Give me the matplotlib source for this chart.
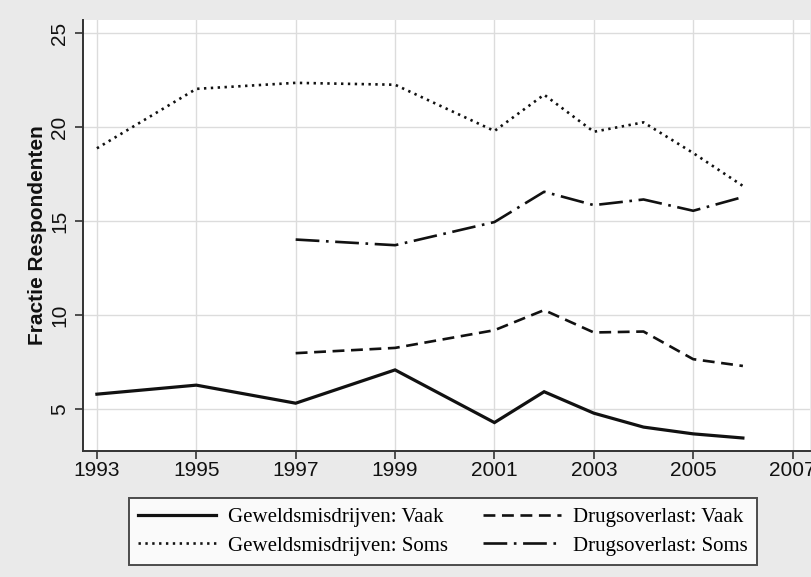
import matplotlib
matplotlib.use("Agg")
import matplotlib.pyplot as plt
import numpy as np

years = [1993, 1995, 1997, 1999, 2001, 2002, 2003, 2004, 2005, 2006]
years_drugs = [1997, 1999, 2001, 2002, 2003, 2004, 2005, 2006]

geweld_vaak = [5.80, 6.28, 5.32, 7.09, 4.29, 5.93, 4.79, 4.05, 3.69, 3.47]
geweld_soms = [18.87, 22.03, 22.35, 22.25, 19.79, 21.72, 19.75, 20.25, 18.62, 16.87]
drugs_vaak = [7.98, 8.26, 9.20, 10.27, 9.08, 9.13, 7.66, 7.30]
drugs_soms = [14.02, 13.72, 14.95, 16.56, 15.85, 16.15, 15.55, 16.28]

labels = ["Geweldsmisdrijven: Vaak", "Geweldsmisdrijven: Soms",
          "Drugsoverlast: Vaak", "Drugsoverlast: Soms"]
xticks = [1993, 1995, 1997, 1999, 2001, 2003, 2005, 2007]
yticks = [5, 10, 15, 20, 25]

bg = "#eaeaea"
ink = "#111111"

fig = plt.figure(figsize=(8.12, 5.77), dpi=100, facecolor=bg)
ax = fig.add_axes([0.1022, 0.2184, 0.8953, 0.7469])
ax.set_facecolor("white")

h1, = ax.plot(years, geweld_vaak, color=ink, lw=2.3, solid_joinstyle="miter")
h2, = ax.plot(years, geweld_soms, color=ink, lw=1.9, linestyle=(0, (0.9, 1.7)))
h3, = ax.plot(years_drugs, drugs_vaak, color=ink, lw=1.9, linestyle=(0, (4.5, 2.5)))
h4, = ax.plot(years_drugs, drugs_soms, color=ink, lw=1.9,
              linestyle=(0, (9, 2.5, 1, 2.5)))

ax.set_xlim(1992.72, 2007.35)
ax.set_ylim(2.78, 25.69)
ax.set_xticks(xticks)
ax.set_yticks(yticks)
ax.grid(True, color="#dcdcdc", lw=1.0)
ax.set_axisbelow(True)

for s in ["top", "right"]:
    ax.spines[s].set_visible(False)
for s in ["left", "bottom"]:
    ax.spines[s].set_color("#333333")
    ax.spines[s].set_linewidth(1.4)

ax.tick_params(axis="both", length=6, width=1.2, color="#333333",
               labelsize=15, labelcolor=ink)
ax.tick_params(axis="x", pad=1.5)
ax.tick_params(axis="y", pad=4)
for lab in ax.get_xticklabels():
    lab.set_family("Liberation Sans")
for lab in ax.get_yticklabels():
    lab.set_family("Liberation Sans")
    lab.set_rotation(90)
    lab.set_va("center")

ax.set_ylabel("Fractie Respondenten", fontsize=15, fontweight="bold",
              family="Liberation Sans", color=ink, labelpad=2)

leg = fig.legend([h1, h2, h3, h4], labels, ncol=2, loc="lower left",
                 bbox_to_anchor=(0.159, 0.0208), frameon=True, fancybox=False,
                 handlelength=3.7, handletextpad=0.6, borderpad=0.45,
                 prop={"family": "Liberation Serif", "size": 15},
                 borderaxespad=0, labelspacing=0.42, columnspacing=1.7)
frame = leg.get_frame()
frame.set_edgecolor("#222222")
frame.set_linewidth(1.4)
frame.set_facecolor("white")

fig.savefig("out.png", dpi=100, facecolor=bg)
